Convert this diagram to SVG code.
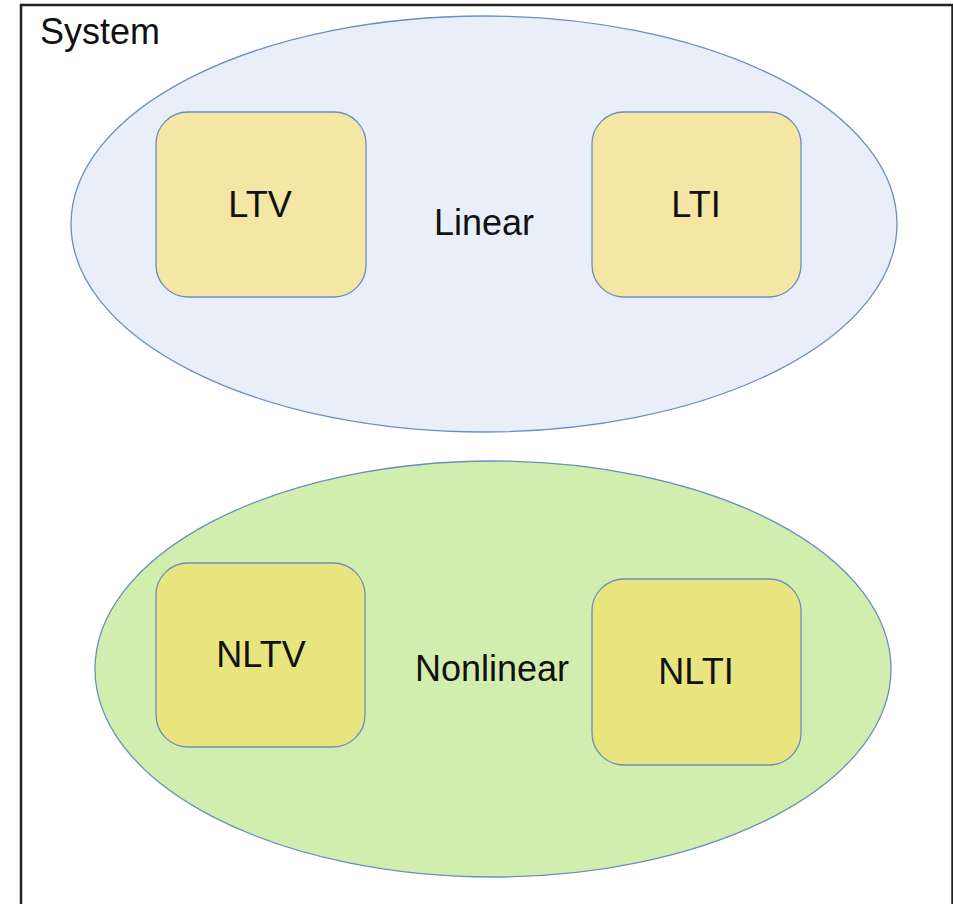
<svg xmlns="http://www.w3.org/2000/svg" width="953" height="904" viewBox="0 0 953 904">
  <style>
    .frame { fill: #ffffff; stroke: #222222; stroke-width: 2.5; }
    .set { stroke: #6c8ebf; stroke-width: 1.3; }
    .linear { fill: #e8eff8; }
    .nonlinear { fill: #d1eeae; }
    .box { stroke: #6c8ebf; stroke-width: 1.3; }
    .lbox { fill: #f4e6a4; }
    .nbox { fill: #e8e57f; }
    text { font-family: "Liberation Sans", Arial, sans-serif; fill: #111111; }
    .big { font-size: 36px; text-anchor: middle; }
    .title { font-size: 36px; }
  </style>

  <!-- outer system frame (bottom edge runs past the canvas) -->
  <g id="system">
    <rect class="frame" x="21" y="5" width="931.5" height="905"/>
    <text class="title" x="40" y="44">System</text>
  </g>

  <!-- linear class -->
  <g id="linear">
    <ellipse class="set linear" cx="484" cy="224" rx="413" ry="208"/>
    <text class="big" x="484" y="235">Linear</text>
  </g>

  <!-- nonlinear class -->
  <g id="nonlinear">
    <ellipse class="set nonlinear" cx="493" cy="669" rx="398" ry="208"/>
    <text class="big" x="492" y="681">Nonlinear</text>
  </g>

  <g id="ltv">
    <rect class="box lbox" x="156" y="112" width="210" height="185" rx="32"/>
    <text class="big" x="260" y="217">LTV</text>
  </g>

  <g id="lti">
    <rect class="box lbox" x="592" y="112" width="209" height="185" rx="32"/>
    <text class="big" x="696" y="217">LTI</text>
  </g>

  <g id="nltv">
    <rect class="box nbox" x="156" y="563" width="209" height="184" rx="32"/>
    <text class="big" x="261" y="667">NLTV</text>
  </g>

  <g id="nlti">
    <rect class="box nbox" x="592" y="579" width="209" height="186" rx="32"/>
    <text class="big" x="696" y="684">NLTI</text>
  </g>

  <g id="connectors"/>
</svg>
